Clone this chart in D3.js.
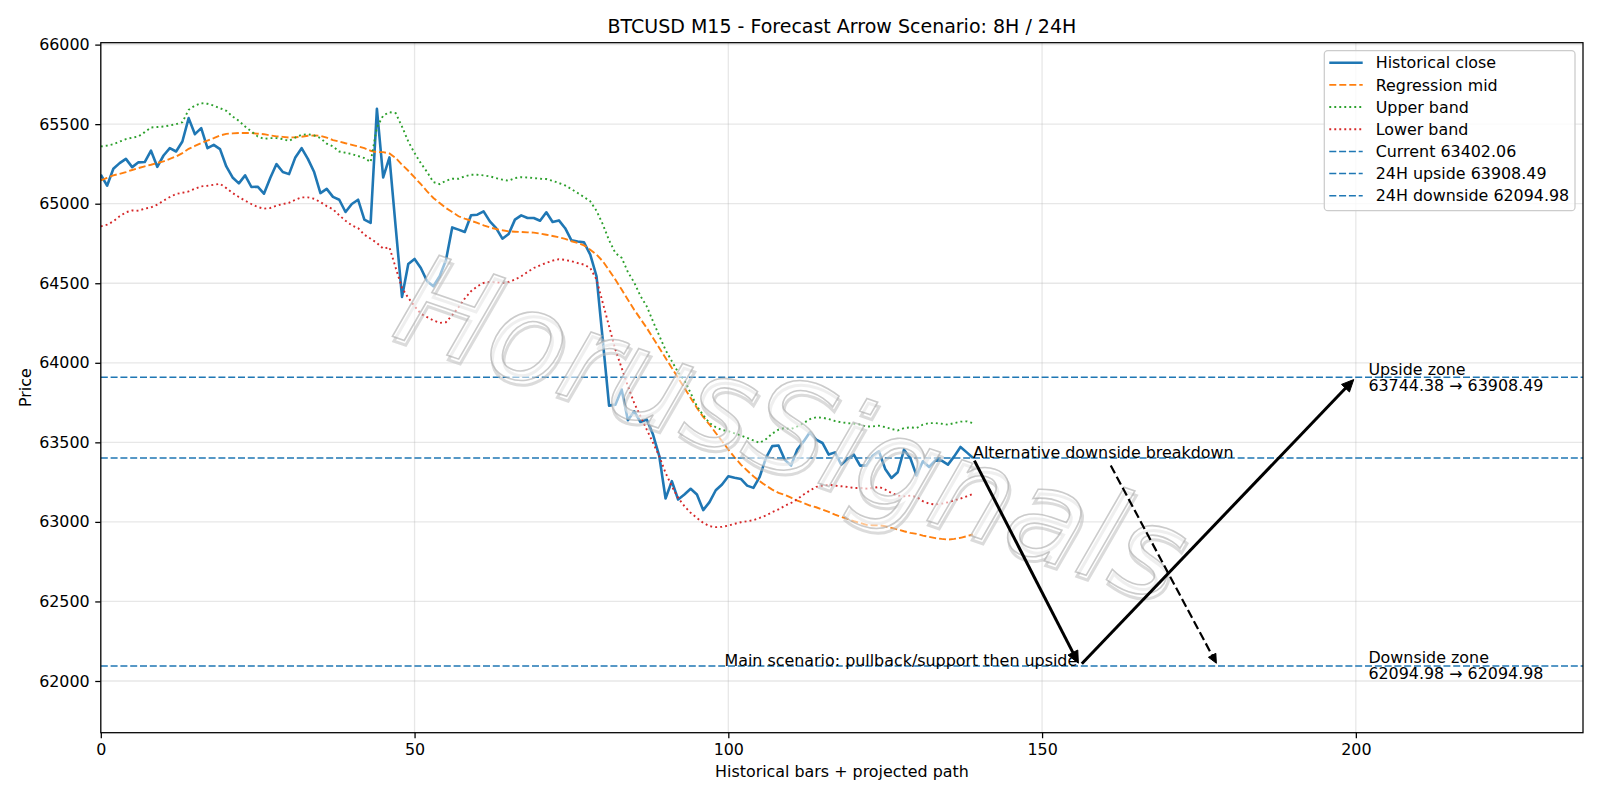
<!DOCTYPE html>
<html><head><meta charset="utf-8">
<script src="https://cdn.jsdelivr.net/npm/d3@7"></script>
<style>
html,body{margin:0;padding:0;background:#fff;}
svg{display:block;font-family:"DejaVu Sans",sans-serif;}
</style></head>
<body>
<svg id="chart" width="1600" height="800"></svg>
<script>
// ---------------- data ----------------
const closeVals = [65182,65113,65220,65255,65282,65230,65260,65262,65333,65232,65303,65349,65328,65391,65538,65437,65475,65349,65370,65343,
65234,65165,65128,65178,65105,65107,65063,65161,65249,65199,65186,65291,65349,65282,65199,65067,65093,65043,65025,64948,
64998,65025,64900,64879,65596,65165,65291,64850,64414,64621,64653,64596,64513,64481,64544,64644,64851,64837,64822,64927,
64931,64952,64889,64847,64780,64810,64900,64927,64910,64910,64893,64946,64885,64895,64846,64770,64763,64757,64680,64544,
64140,63731,63737,63832,63639,63695,63628,63643,63549,63413,63147,63256,63141,63172,63208,63172,63074,63124,63199,63235,
63287,63277,63270,63228,63214,63283,63402,63476,63480,63390,63354,63455,63506,63563,63517,63496,63423,63437,63360,63395,
63423,63354,63354,63416,63444,63333,63276,63312,63454,63402,63291,63381,63345,63387,63385,63360,63412,63471,63437,63402.06];

const midVals = [65146,65162,65178,65188,65199,65212,65224,65235,65245,65256,65266,65282,65297,65318,65345,65363,65381,65397,65412,65429,
65439,65442,65444,65444,65444,65440,65437,65429,65423,65420,65416,65418,65421,65427,65429,65427,65415,65400,65391,65380,
65370,65360,65349,65333,65324,65324,65316,65287,65245,65207,65165,65123,65077,65036,65004,64973,64948,64921,64906,64893,
64879,64864,64851,64841,64833,64826,64824,64822,64820,64818,64812,64805,64797,64789,64779,64764,64753,64738,64711,64680,
64638,64581,64523,64460,64397,64334,64276,64219,64156,64093,64030,63968,63905,63842,63779,63716,63660,63612,63559,63507,
63455,63406,63360,63323,63287,63256,63228,63203,63182,63170,63152,63134,63119,63103,63092,63077,63063,63046,63031,63019,
63004,62994,62981,62979,62979,62973,62962,62952,62941,62931,62925,62914,62906,62898,62893,62889,62893,62900,62910,62921];

const upperVals = [65360,65365,65374,65390,65406,65415,65423,65450,65479,65482,65485,65492,65500,65512,65590,65617,65632,65628,65617,65600,
65584,65548,65521,65485,65454,65423,65408,65412,65412,65406,65395,65416,65433,65437,65429,65412,65378,65360,65328,65320,
65312,65300,65287,65262,65480,65554,65575,65569,65485,65391,65318,65255,65199,65136,65123,65144,65157,65157,65172,65182,
65182,65178,65172,65161,65151,65144,65161,65167,65165,65161,65157,65155,65144,65130,65115,65092,65067,65042,65015,64955,
64870,64770,64690,64660,64570,64505,64420,64355,64260,64170,64080,64010,63940,63890,63810,63727,63670,63622,63595,63578,
63570,63557,63543,63528,63512,63497,63520,63555,63580,63590,63584,63600,63621,63646,63657,63655,63646,63634,63626,63621,
63617,63611,63600,63600,63605,63596,63584,63575,63590,63594,63590,63611,63621,63621,63617,63611,63621,63630,63632,63621];

const lowerVals = [64858,64868,64889,64921,64946,64958,64956,64969,64977,64994,65019,65042,65061,65069,65077,65094,65109,65113,65119,65125,
65098,65067,65042,65019,64998,64979,64969,64973,64988,64998,65006,65025,65040,65040,65031,65010,64985,64965,64927,64893,
64864,64847,64805,64780,64753,64718,64726,64596,64471,64408,64356,64308,64287,64266,64251,64255,64299,64349,64404,64450,
64481,64502,64508,64506,64502,64508,64523,64544,64571,64596,64613,64628,64642,64651,64647,64638,64627,64617,64596,64523,
64376,64229,64083,63968,63852,63748,63664,63580,63497,63413,63308,63224,63151,63099,63057,63025,62994,62973,62967,62969,
62977,62988,62998,63004,63011,63025,63040,63061,63078,63101,63119,63143,63172,63197,63220,63228,63234,63228,63224,63220,
63213,63213,63209,63213,63220,63203,63182,63165,63161,63165,63157,63130,63115,63109,63115,63123,63136,63146,63161,63176];

const levelNames = ["Current 63402.06", "24H upside 63908.49", "24H downside 62094.98"];
const levelVals = [63402.06, 63908.49, 62094.98];

// main scenario path: current -> support -> upside target
const scenarioX = [139, 156, 200];
const scenarioY = [63402.06, 62094.98, 63908.49];
// alternative scenario arrow target
const altTarget = [178, 62094.98];

const xTicks = [0, 50, 100, 150, 200];
const yTicks = [62000, 62500, 63000, 63500, 64000, 64500, 65000, 65500, 66000];

const zoneLabels = [
  {x: 202, y: 63908.49, lines: ["Upside zone", "63744.38 \u2192 63908.49"]},
  {x: 202, y: 62094.98, lines: ["Downside zone", "62094.98 \u2192 62094.98"]}
];

const titleText = "BTCUSD M15 - Forecast Arrow Scenario: 8H / 24H";
const xLabel = "Historical bars + projected path";
const yLabel = "Price";
const altText = "Alternative downside breakdown";
const mainText = "Main scenario: pullback/support then upside";
const watermark = "HorusSignals";

const legendItems = [
  {label: "Historical close", color: "#1f77b4", w: 2.6, dash: null},
  {label: "Regression mid", color: "#ff7f0e", w: 1.9, dash: "7,3"},
  {label: "Upper band", color: "#2ca02c", w: 1.9, dash: "1.9,3.1"},
  {label: "Lower band", color: "#d62728", w: 1.9, dash: "1.9,3.1"},
  {label: levelNames[0], color: "#1f77b4", w: 1.5, dash: "7,2.8"},
  {label: levelNames[1], color: "#1f77b4", w: 1.5, dash: "7,2.8"},
  {label: levelNames[2], color: "#1f77b4", w: 1.5, dash: "7,2.8"}
];

// ---------------- layout ----------------
const L = 100.8, R = 1583, T = 42.7, B = 732.7;
const FS = 15.9;
const svg = d3.select("#chart");
const x = d3.scaleLinear().domain([0, 236.2]).range([L, R]);
const y = d3.scaleLinear().domain([61675, 66012]).range([B, T]);

svg.append("rect").attr("width",1600).attr("height",800).attr("fill","#fff");

const defs = svg.append("defs");
defs.append("clipPath").attr("id","clip").append("rect")
  .attr("x",L).attr("y",T).attr("width",R-L).attr("height",B-T);

// grid
const grid = svg.append("g");
grid.selectAll(".gx").data(xTicks).join("line")
  .attr("x1",d=>x(d)).attr("x2",d=>x(d)).attr("y1",T).attr("y2",B)
  .attr("stroke","#b0b0b0").attr("stroke-opacity",0.3).attr("stroke-width",1.27);
grid.selectAll(".gy").data(yTicks).join("line")
  .attr("x1",L).attr("x2",R).attr("y1",d=>y(d)).attr("y2",d=>y(d))
  .attr("stroke","#b0b0b0").attr("stroke-opacity",0.3).attr("stroke-width",1.27);

const plot = svg.append("g").attr("clip-path","url(#clip)");
const idx = d3.range(closeVals.length);
const lineGen = vals => d3.line().x(i=>x(i)).y(i=>y(vals[i]))(idx);

plot.append("path").attr("d", lineGen(closeVals)).attr("fill","none")
  .attr("stroke","#1f77b4").attr("stroke-width",2.6).attr("stroke-linejoin","round");
plot.append("path").attr("d", lineGen(midVals)).attr("fill","none")
  .attr("stroke","#ff7f0e").attr("stroke-width",1.9).attr("stroke-dasharray","7,3");
plot.append("path").attr("d", lineGen(upperVals)).attr("fill","none")
  .attr("stroke","#2ca02c").attr("stroke-width",1.9).attr("stroke-dasharray","1.9,3.1");
plot.append("path").attr("d", lineGen(lowerVals)).attr("fill","none")
  .attr("stroke","#d62728").attr("stroke-width",1.9).attr("stroke-dasharray","1.9,3.1");

plot.selectAll(".lvl").data(levelVals).join("line")
  .attr("x1",L).attr("x2",R).attr("y1",d=>y(d)).attr("y2",d=>y(d))
  .attr("stroke","#1f77b4").attr("stroke-width",1.5).attr("stroke-dasharray","7,2.8");

// arrows
function arrow(g, x1, y1, x2, y2, opts) {
  const dx = x2-x1, dy = y2-y1, len = Math.hypot(dx,dy);
  const ux = dx/len, uy = dy/len;
  const sA = 3, sB = 3;
  const sx = x1+ux*sA, sy = y1+uy*sA;
  const tx = x2-ux*sB, ty = y2-uy*sB;
  const hl = opts.hl, hw = opts.hw;
  const bx = tx-ux*hl, by = ty-uy*hl;
  g.append("line").attr("x1",sx).attr("y1",sy).attr("x2",bx+ux*1).attr("y2",by+uy*1)
    .attr("stroke","#000").attr("stroke-width",opts.w)
    .attr("stroke-dasharray",opts.dash||null);
  g.append("path")
    .attr("d",`M${tx},${ty}L${bx-uy*hw},${by+ux*hw}L${bx+uy*hw},${by-ux*hw}Z`)
    .attr("fill","#000").attr("stroke","#000").attr("stroke-width",1).attr("stroke-linejoin","miter");
}

// watermark (drawn over the data lines, under the annotations)
const wmG = svg.append("g").attr("transform","translate(792,428) rotate(19)");
wmG.append("text").attr("x",3).attr("y",4)
  .attr("text-anchor","middle").attr("dominant-baseline","central")
  .attr("font-size",126).attr("font-style","italic")
  .attr("fill","none").attr("stroke","#bdbdbd").attr("stroke-width",3).attr("stroke-opacity",0.55)
  .text(watermark);
wmG.append("text")
  .attr("text-anchor","middle").attr("dominant-baseline","central")
  .attr("font-size",126).attr("font-style","italic")
  .attr("fill","#ffffff").attr("fill-opacity",0.55)
  .attr("stroke","#a8a8a8").attr("stroke-width",1.6).attr("stroke-opacity",0.6)
  .text(watermark);

const ag = svg.append("g");
for (let k=0;k<scenarioX.length-1;k++){
  arrow(ag, x(scenarioX[k]), y(scenarioY[k]), x(scenarioX[k+1]), y(scenarioY[k+1]), {w:3, hl:12, hw:5.5});
}

// annotation texts
const altT = svg.append("text").attr("x", x(scenarioX[0])).attr("y", y(scenarioY[0]))
  .attr("font-size",FS).attr("fill","#000").text(altText);
const altW = altT.node().getComputedTextLength();
arrow(ag, x(scenarioX[0])+altW/2+6, y(scenarioY[0])+5, x(altTarget[0]), y(altTarget[1]), {w:2.2, hl:9, hw:4.2, dash:"8.8,3.8"});

svg.append("text").attr("x", x(155.6)).attr("y", y(scenarioY[1]))
  .attr("text-anchor","end").attr("font-size",FS).attr("fill","#000").text(mainText);

zoneLabels.forEach(z=>{
  const t = svg.append("text").attr("font-size",FS).attr("fill","#000");
  z.lines.forEach((ln,k)=>{
    t.append("tspan").attr("x", x(z.x)).attr("y", y(z.y) - 2.8 + k*16).text(ln);
  });
});

// axes
const xAxis = svg.append("g").attr("transform",`translate(0,${B})`)
  .call(d3.axisBottom(x).tickValues(xTicks).tickFormat(d3.format("d")).tickSize(5.56).tickPadding(5.56));
const yAxis = svg.append("g").attr("transform",`translate(${L},0)`)
  .call(d3.axisLeft(y).tickValues(yTicks).tickFormat(d3.format("d")).tickSize(5.56).tickPadding(5.56));
[xAxis,yAxis].forEach(a=>{
  a.select(".domain").remove();
  a.selectAll("line").attr("stroke","#000").attr("stroke-width",1.27);
  a.selectAll("text").attr("font-size",FS).attr("font-family","DejaVu Sans").attr("fill","#000");
});

// spines
svg.append("rect").attr("x",L).attr("y",T).attr("width",R-L).attr("height",B-T)
  .attr("fill","none").attr("stroke","#000").attr("stroke-width",1.27);

// labels
svg.append("text").attr("x",(L+R)/2).attr("y",33.2).attr("text-anchor","middle")
  .attr("font-size",19).attr("fill","#000").text(titleText);
svg.append("text").attr("x",(L+R)/2).attr("y",777).attr("text-anchor","middle")
  .attr("font-size",FS).attr("fill","#000").text(xLabel);
svg.append("text").attr("transform",`translate(31,${(T+B)/2}) rotate(-90)`).attr("text-anchor","middle")
  .attr("font-size",FS).attr("fill","#000").text(yLabel);

// legend
const lg = svg.append("g");
lg.append("rect").attr("x",1324.3).attr("y",50.7).attr("width",1575-1324.3).attr("height",210.7-50.7)
  .attr("rx",3.5).attr("fill","#fff").attr("fill-opacity",0.8)
  .attr("stroke","#cccccc").attr("stroke-width",1.27);
legendItems.forEach((it,k)=>{
  const cy = 62.7 + k*22.17;
  lg.append("line").attr("x1",1329.3).attr("x2",1362.7).attr("y1",cy).attr("y2",cy)
    .attr("stroke",it.color).attr("stroke-width",it.w).attr("stroke-dasharray",it.dash);
  lg.append("text").attr("x",1375.7).attr("y",cy).attr("dy","0.36em")
    .attr("font-size",FS).attr("fill","#000").text(it.label);
});
</script>
</body></html>
